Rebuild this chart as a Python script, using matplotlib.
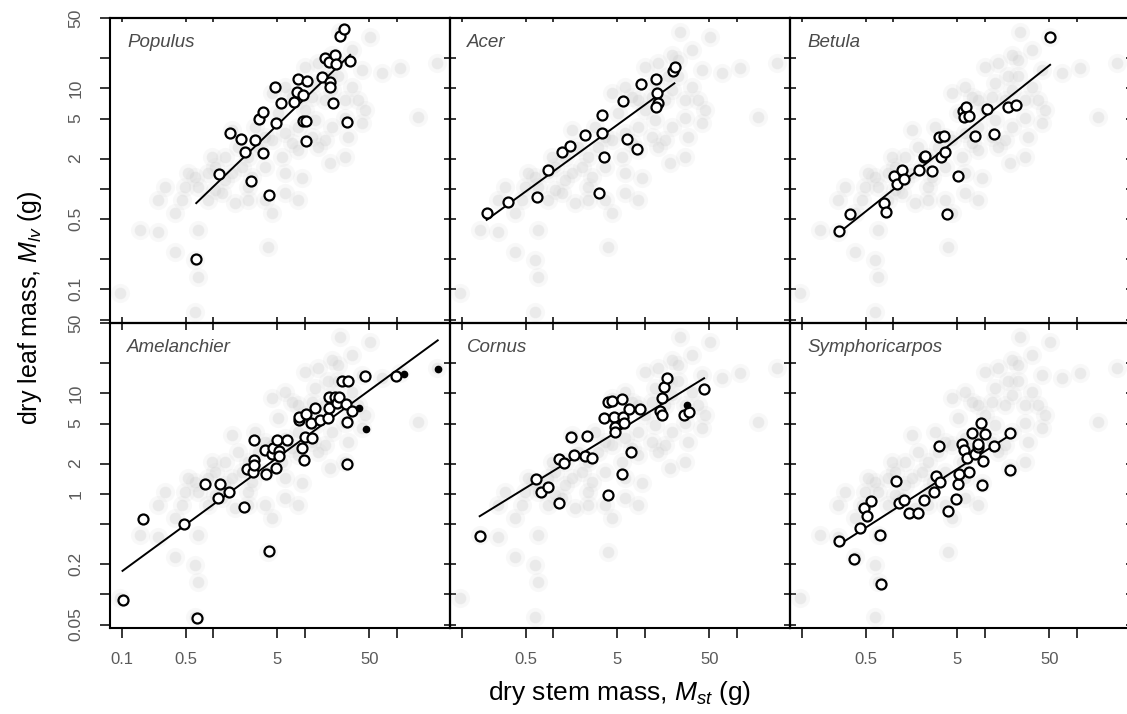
import numpy as np
import matplotlib.pyplot as plt
from matplotlib.ticker import NullLocator

plt.rcParams['font.family'] = ['Liberation Sans', 'DejaVu Sans']
plt.rcParams['mathtext.fontset'] = 'custom'
plt.rcParams['mathtext.rm'] = 'Liberation Sans'
plt.rcParams['mathtext.it'] = 'Liberation Sans:italic'

# pooled data of all species (grey cloud, same in each panel)
pool_x = [24.1, 51.2, 41.5, 109, 273, 19.5, 14.0, 18.0, 6.05, 4.33, 32.3, 27.3, 19.5, 27.3, 41.5,
          10.0, 11.8, 8.46, 4.33, 3.10, 1.58, 5.56, 6.05, 2.04, 1.34, 1.04, 2.62, 1.72, 0.63, 0.686,
          0.452, 0.382, 0.251, 0.158, 9.2, 18.7, 27.3, 3.98, 0.686, 0.382, 0.63, 0.686, 0.096, 0.63,
          3.66, 4.33, 0.882, 1.23, 45.2, 172, 2.41, 3.66, 8.46, 12.9, 16.5, 8.46, 12.9, 23.1, 6.05,
          1.04, 0.491, 0.251, 0.297, 23.1, 29.7, 2.41, 8.46, 1.34, 14.0, 38.2,
          10.0, 7.16, 11.8, 5.12, 2.85, 3.66, 7.16, 1.87, 0.96, 1.58, 2.41, 0.88, 0.533, 6.05,
          16.5, 19.5, 32.3, 68.6]
pool_y = [36.6, 32.7, 15.2, 15.8, 17.7, 21.5, 17.7, 13.1, 10.4, 8.9, 10.4, 7.66, 4.15, 5.03, 4.48,
          6.09, 3.30, 4.15, 3.06, 2.63, 3.85, 2.09, 1.43, 1.66, 1.22, 0.97, 1.32, 0.717, 1.32, 1.05,
          0.774, 0.570, 0.375, 0.389, 1.27, 1.79, 2.09, 0.266, 0.389, 0.237, 0.196, 0.134, 0.091, 0.06,
          0.774, 0.570, 0.774, 0.90, 6.09, 5.22, 2.09, 1.66, 2.43, 4.84, 7.66, 7.66, 11.2, 13.1, 3.57,
          1.66, 1.05, 0.774, 1.05, 19.1, 3.30, 1.05, 0.774, 2.09, 2.63, 7.66,
          16.4, 8.26, 8.26, 5.64, 4.15, 3.30, 2.84, 2.63, 2.09, 1.43, 0.774, 1.43, 1.43, 0.90,
          3.06, 9.62, 24.1, 14.1]

names = ['Populus', 'Acer', 'Betula', 'Amelanchier', 'Cornus', 'Symphoricarpos']

populus_x = [0.65, 1.15, 1.52, 1.99, 2.21, 2.55, 2.85, 3.12, 3.45, 3.45, 4.01, 4.75, 4.87, 5.47, 7.59,
             8.11, 8.32, 9.59, 9.59, 10.3, 10.3, 10.6, 15.3, 16.7, 18.1, 18.7, 18.7, 20.4, 21.2, 21.8,
             24.1, 26.6, 28.5, 31.0]
populus_y = [0.20, 1.41, 3.62, 3.11, 2.34, 1.19, 3.06, 4.92, 5.77, 2.29, 0.875, 10.4, 4.48, 7.09, 7.31,
             9.27, 12.5, 8.65, 4.77, 4.77, 2.99, 11.7, 12.9, 20.0, 18.3, 11.6, 10.4, 7.2, 21.6, 17.3,
             33.2, 38.6, 4.62, 18.7]

acer_x = [0.187, 0.323, 0.663, 0.867, 1.25, 1.51, 2.23, 3.12, 3.37, 3.37, 3.54, 5.71, 6.41, 8.18,
          9.12, 13.3, 13.4, 13.7, 13.3, 20.4, 21.1]
acer_y = [0.570, 0.745, 0.836, 1.54, 2.33, 2.67, 3.43, 0.916, 5.39, 3.62, 2.06, 7.54, 3.13, 2.51,
          10.96, 12.4, 9.06, 7.2, 6.57, 14.9, 16.4]

betula_x = [0.258, 0.340, 0.798, 0.825, 1.01, 1.09, 1.25, 1.32, 1.91, 2.16, 2.21, 2.62, 3.28, 3.15,
            3.57, 3.66, 3.82, 5.03, 5.80, 6.15, 5.95, 6.75, 7.78, 10.6, 12.5, 18.0, 22.0, 51.2]
betula_y = [0.380, 0.562, 0.717, 0.593, 1.34, 1.11, 1.54, 1.24, 1.54, 2.06, 2.14, 1.50, 2.09, 3.30,
            3.36, 2.34, 0.562, 1.34, 6.0, 6.57, 5.15, 5.31, 3.36, 6.18, 3.49, 6.57, 6.78, 32.7]

amelanchier_x = [0.102, 0.172, 0.479, 0.658, 0.811, 1.13, 1.18, 1.47, 2.14, 2.31, 2.73, 2.78, 2.78,
                 2.80, 3.72, 3.66, 4.01, 4.37, 4.51, 4.83, 4.91, 5.16, 5.16, 6.31, 8.67, 8.6, 9.2,
                 9.75, 10.1, 10.3, 11.5, 11.8, 12.9, 14.6, 18.0, 18.3, 18.4, 21.2, 22.5, 23.7, 27.8,
                 28.5, 29.0, 25.1, 29.7, 32.6, 45.5, 98.4]
amelanchier_y = [0.0878, 0.558, 0.501, 0.0584, 1.24, 0.912, 1.26, 1.04, 0.747, 1.75, 1.65, 3.41, 2.15,
                 1.95, 1.56, 2.71, 0.267, 2.47, 2.86, 1.81, 3.41, 2.67, 2.36, 3.41, 5.41, 5.75, 2.88,
                 2.19, 3.69, 6.17, 5.01, 3.55, 7.19, 5.41, 5.62, 7.19, 9.12, 9.12, 7.94, 9.12, 7.76,
                 2.0, 5.21, 13.1, 13.1, 6.71, 15.0, 15.0]
amelanchier_fx = [39.1, 45.9, 121, 280]
amelanchier_fy = [7.08, 4.40, 15.6, 17.4]

cornus_x = [0.157, 0.653, 0.733, 0.882, 1.15, 1.16, 1.29, 1.55, 1.68, 2.21, 2.31, 2.66, 3.54, 3.92,
            3.98, 4.40, 4.59, 4.71, 4.71, 5.56, 5.66, 5.71, 5.95, 6.69, 6.98, 8.89, 14.6, 15.2, 15.2,
            16.0, 17.2, 26.4, 30.2, 44.0]
cornus_y = [0.383, 1.39, 1.04, 1.18, 0.807, 2.24, 2.03, 3.69, 2.42, 2.40, 3.74, 2.26, 5.62, 8.25,
            0.977, 8.45, 5.84, 4.64, 4.14, 8.78, 1.58, 5.84, 5.01, 6.92, 2.61, 6.97, 6.71, 6.03, 9.05,
            11.5, 14.2, 6.03, 6.56, 11.0]
cornus_fx = [28.5]
cornus_fy = [7.64]

symph_x = [0.258, 0.369, 0.436, 0.475, 0.516, 0.571, 0.716, 0.728, 1.07, 1.15, 1.30, 1.48, 1.87, 2.18,
           2.80, 2.90, 3.18, 3.20, 3.92, 4.87, 5.12, 5.25, 5.56, 5.85, 6.31, 6.75, 7.28, 7.71, 8.32,
           8.46, 9.04, 9.2, 9.51, 10.0, 12.4, 18.7, 18.9]
symph_y = [0.341, 0.224, 0.457, 0.724, 0.598, 0.838, 0.392, 0.126, 1.34, 0.807, 0.858, 0.651, 0.651,
           0.858, 1.05, 1.51, 2.97, 1.31, 0.681, 0.878, 1.26, 1.58, 3.16, 2.71, 2.27, 1.65, 3.98, 2.51,
           2.93, 3.16, 5.01, 1.23, 2.10, 3.92, 3.0, 4.07, 1.72]

# fitted lines: (x start, x end), (y start, y end)
fit_x = [(0.65, 31.0), (0.187, 20.9), (0.273, 51.2), (0.102, 280), (0.157, 44.0), (0.262, 18.7)]
fit_y = [(0.72, 21.5), (0.49, 11.2), (0.384, 17.1), (0.171, 33.6), (0.598, 14.1), (0.316, 3.83)]

open_x = [populus_x, acer_x, betula_x, amelanchier_x, cornus_x, symph_x]
open_y = [populus_y, acer_y, betula_y, amelanchier_y, cornus_y, symph_y]
filled_x = [[], [], [], amelanchier_fx, cornus_fx, []]
filled_y = [[], [], [], amelanchier_fy, cornus_fy, []]

xticks = [0.1, 0.5, 1, 5, 10, 50, 100]
xlabels_first = ['0.1', '0.5', '', '5', '', '50', '']
xlabels_other = ['', '0.5', '', '5', '', '50', '']
yticks = [0.05, 0.1, 0.2, 0.5, 1, 2, 5, 10, 20, 50]
ylabels_top = ['', '0.1', '', '0.5', '', '2', '5', '10', '', '50']
ylabels_bottom = ['0.05', '', '0.2', '', '1', '2', '5', '10', '', '50']

narrow = ['Liberation Sans Narrow', 'Liberation Sans', 'DejaVu Sans']
tick_grey = '#5a5a5a'

W, H = 1127, 714
fig = plt.figure(figsize=(W / 100, H / 100), dpi=100)
lefts = [110, 450, 790]
tops = [18, 323]
pw, ph = 340, 305

for i in range(6):
    r, c = divmod(i, 3)
    ax = fig.add_axes([lefts[c] / W, 1 - (tops[r] + ph) / H, pw / W, ph / H])
    ax.patch.set_alpha(0)
    ax.set_xscale('log')
    ax.set_yscale('log')
    ax.set_xlim(0.0745, 381)
    ax.set_ylim(0.0462, 50)

    # soft grey cloud: faint halo + core
    ax.scatter(pool_x, pool_y, s=190, marker='o', color='#c4c4c4', alpha=0.10,
               linewidths=0, zorder=1)
    ax.scatter(pool_x, pool_y, s=70, marker='o', color='#c8c8c8', alpha=0.28,
               linewidths=0, zorder=1)
    ax.plot(fit_x[i], fit_y[i], color='black', lw=1.4, zorder=2)
    ax.plot(open_x[i], open_y[i], 'o', ms=7.2, mfc='white', mec='black', mew=1.6, zorder=3)
    if filled_x[i]:
        ax.plot(filled_x[i], filled_y[i], 'o', ms=4.5, color='black', zorder=4)

    ax.text(0.05, 0.92, names[i], transform=ax.transAxes, fontsize=13.5, style='italic',
            color='#4a4a4a', va='center', ha='left')

    for sp in ax.spines.values():
        sp.set_linewidth(1.5)

    # bottom / left ticks
    ax.set_xticks(xticks)
    ax.xaxis.set_minor_locator(NullLocator())
    ax.set_yticks(yticks)
    ax.yaxis.set_minor_locator(NullLocator())
    if r == 1:
        ax.set_xticklabels(xlabels_first if c == 0 else xlabels_other,
                           fontfamily=narrow, fontsize=12, color=tick_grey)
        ax.tick_params(axis='x', direction='out', length=7, width=1.1, pad=10)
    else:
        ax.set_xticklabels([''] * len(xticks))
        ax.tick_params(axis='x', direction='out', length=5, width=1.1)
    if c == 0:
        ax.set_yticklabels(ylabels_top if r == 0 else ylabels_bottom,
                           fontfamily=narrow, fontsize=12.5, color=tick_grey,
                           rotation=90, va='center')
        ax.tick_params(axis='y', direction='out', length=7, width=1.1, pad=12)
    else:
        ax.set_yticklabels([''] * len(yticks))
        ax.tick_params(axis='y', direction='out', length=4.5, width=1.1)

    # top / right ticks
    top = ax.secondary_xaxis('top')
    top.set_xticks(xticks)
    top.set_xticklabels([])
    top.xaxis.set_minor_locator(NullLocator())
    top.tick_params(direction='in' if r == 0 else 'out', length=3 if r == 0 else 4.5, width=1.1)
    top.spines['top'].set_linewidth(1.5)
    right = ax.secondary_yaxis('right')
    right.set_yticks(yticks)
    right.set_yticklabels([])
    right.yaxis.set_minor_locator(NullLocator())
    right.tick_params(direction='in' if c == 2 else 'out', length=3 if c == 2 else 4.5, width=1.1)
    right.spines['right'].set_linewidth(1.5)

fig.text(0.027, 1 - 308 / H, 'dry leaf mass, $M_{lv}$ (g)', rotation=90, fontsize=18,
         ha='center', va='center')
fig.text(620 / W, 1 - 693 / H, 'dry stem mass, $M_{st}$ (g)', fontsize=19, fontfamily=narrow,
         ha='center', va='center')

fig.savefig('out.png', dpi=100)
